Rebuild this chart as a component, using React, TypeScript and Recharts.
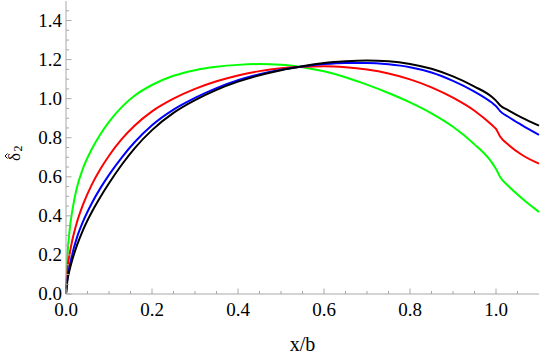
import { LineChart, Line, XAxis, YAxis } from 'recharts'

// x/b sample positions and the four curves
const xs = [0, 0.003, 0.008, 0.015, 0.025, 0.04, 0.06, 0.08, 0.1, 0.13, 0.16, 0.2, 0.25, 0.3, 0.35, 0.4, 0.45, 0.5, 0.55, 0.6, 0.65, 0.7, 0.75, 0.8, 0.85, 0.9, 0.95, 0.99, 1.0, 1.01, 1.03, 1.06, 1.1]
const green = [0, 0.179, 0.319, 0.431, 0.541, 0.646, 0.742, 0.818, 0.881, 0.958, 1.016, 1.07, 1.117, 1.146, 1.163, 1.173, 1.177, 1.174, 1.161, 1.14, 1.11, 1.072, 1.029, 0.981, 0.925, 0.856, 0.766, 0.674, 0.64, 0.598, 0.55, 0.49, 0.42]
const red = [0, 0.119, 0.199, 0.279, 0.364, 0.46, 0.56, 0.64, 0.708, 0.794, 0.863, 0.935, 1.0, 1.05, 1.089, 1.119, 1.141, 1.156, 1.164, 1.166, 1.161, 1.149, 1.129, 1.099, 1.058, 1.005, 0.938, 0.866, 0.845, 0.805, 0.762, 0.713, 0.667]
const blue = [0, 0.073, 0.138, 0.208, 0.286, 0.373, 0.465, 0.542, 0.61, 0.7, 0.778, 0.864, 0.944, 1.004, 1.054, 1.094, 1.125, 1.148, 1.165, 1.177, 1.183, 1.183, 1.176, 1.161, 1.134, 1.091, 1.036, 0.98, 0.962, 0.935, 0.905, 0.865, 0.815]
const black = [0, 0.066, 0.12, 0.178, 0.246, 0.33, 0.42, 0.497, 0.567, 0.663, 0.747, 0.839, 0.927, 0.992, 1.045, 1.087, 1.12, 1.146, 1.166, 1.183, 1.192, 1.196, 1.192, 1.178, 1.153, 1.114, 1.062, 1.01, 0.99, 0.965, 0.939, 0.903, 0.862]

const xTicks = [0, 0.05, 0.1, 0.15, 0.2, 0.25, 0.3, 0.35, 0.4, 0.45, 0.5, 0.55, 0.6, 0.65, 0.7, 0.75, 0.8, 0.85, 0.9, 0.95, 1.0, 1.05]
const yTicks = [0, 0.05, 0.1, 0.15, 0.2, 0.25, 0.3, 0.35, 0.4, 0.45, 0.5, 0.55, 0.6, 0.65, 0.7, 0.75, 0.8, 0.85, 0.9, 0.95, 1.0, 1.05, 1.1, 1.15, 1.2, 1.25, 1.3, 1.35, 1.4, 1.45]

const data = xs.map((x, i) => ({ x, green: green[i], red: red[i], blue: blue[i], black: black[i] }))

const FRAME = '#a8a8a8'
const SERIF = "'Liberation Serif', 'Times New Roman', Tinos, serif"
const isMajor = (v: number) => Math.abs(v * 5 - Math.round(v * 5)) < 1e-6
const len = (v: number) => (isMajor(v) ? 5.5 : 3)

const BottomTick = ({ x, y, payload }: any) => (
  <g>
    <line x1={x} x2={x} y1={y} y2={y - len(payload.value)} stroke={FRAME} />
    {isMajor(payload.value) && (
      <text x={x} y={y + 22} textAnchor="middle" fontFamily={SERIF} fontSize={19} fill="#000">
        {payload.value.toFixed(1)}
      </text>
    )}
  </g>
)
const TopTick = ({ x, y, payload }: any) => (
  <line x1={x} x2={x} y1={y} y2={y + len(payload.value)} stroke={FRAME} />
)
const LeftTick = ({ x, y, payload }: any) => (
  <g>
    <line x1={x} x2={x + len(payload.value)} y1={y} y2={y} stroke={FRAME} />
    {isMajor(payload.value) && (
      <text x={x - 4} y={y + 6} textAnchor="end" fontFamily={SERIF} fontSize={19} fill="#000">
        {payload.value.toFixed(1)}
      </text>
    )}
  </g>
)
const RightTick = ({ x, y, payload }: any) => (
  <line x1={x} x2={x - len(payload.value)} y1={y} y2={y} stroke={FRAME} />
)

// rotated δ̂₂ axis title (hat drawn as a small stroke)
const YTitle = () => (
  <g transform="translate(20,161) rotate(-90)" fontFamily={SERIF} fill="#000">
    <text x={0} y={0} fontSize={17}>δ</text>
    <polyline points="2.5,-12.5 5,-15 7.5,-12.5" fill="none" stroke="#000" strokeWidth={1} />
    <text x={9.5} y={2} fontSize={12}>2</text>
  </g>
)

export default function App() {
  return (
    <div style={{ position: 'absolute', left: 0, top: 0, width: 540, height: 354, background: '#fff', fontFamily: SERIF }}>
      <LineChart width={540} height={354} data={data} margin={{ top: 1, right: 1, left: 0, bottom: 0 }}>
        <XAxis
          dataKey="x"
          type="number"
          domain={[0, 1.1]}
          ticks={xTicks}
          interval={0}
          height={60}
          tickSize={0}
          tickMargin={0}
          tickLine={false}
          axisLine={{ stroke: FRAME }}
          tick={<BottomTick />}
          label={{
            content: () => (
              <text x={302.5} y={351} textAnchor="middle" fontFamily={SERIF} fontSize={20} fill="#000">
                x/b
              </text>
            ),
          }}
        />
        <XAxis
          xAxisId="top"
          orientation="top"
          type="number"
          domain={[0, 1.1]}
          ticks={xTicks}
          interval={0}
          height={0}
          tickSize={0}
          tickMargin={0}
          tickLine={false}
          axisLine={{ stroke: FRAME }}
          tick={<TopTick />}
        />
        <YAxis
          type="number"
          domain={[0, 1.5]}
          ticks={yTicks}
          interval={0}
          width={66}
          tickSize={0}
          tickMargin={0}
          tickLine={false}
          axisLine={{ stroke: FRAME }}
          tick={<LeftTick />}
          label={{ content: () => <YTitle /> }}
        />
        <YAxis
          yAxisId="right"
          orientation="right"
          type="number"
          domain={[0, 1.5]}
          ticks={yTicks}
          interval={0}
          width={0}
          tickSize={0}
          tickMargin={0}
          tickLine={false}
          axisLine={{ stroke: FRAME }}
          tick={<RightTick />}
        />
        <Line type="monotone" dataKey="green" stroke="#00ff00" strokeWidth={2} dot={false} isAnimationActive={false} />
        <Line type="monotone" dataKey="red" stroke="#ff0000" strokeWidth={2} dot={false} isAnimationActive={false} />
        <Line type="monotone" dataKey="blue" stroke="#0000ff" strokeWidth={2} dot={false} isAnimationActive={false} />
        <Line type="monotone" dataKey="black" stroke="#000000" strokeWidth={2} dot={false} isAnimationActive={false} />
      </LineChart>
    </div>
  )
}
